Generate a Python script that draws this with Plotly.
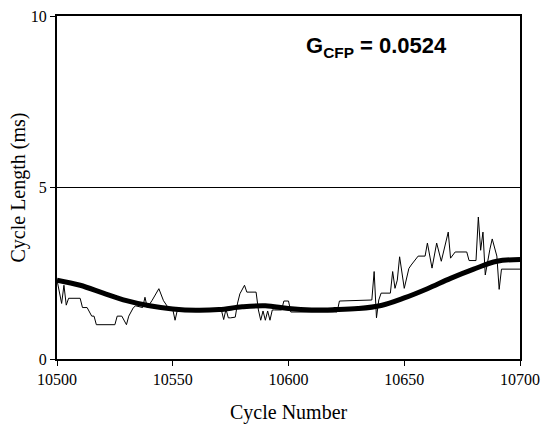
import plotly.graph_objects as go

# Raw cycle length (thin line)
raw_cycle = [10500, 10502, 10503, 10504, 10505, 10510, 10511, 10513, 10515, 10516, 10517,
             10525, 10526, 10528, 10530, 10531, 10533, 10534, 10537, 10538, 10539, 10541,
             10544, 10545, 10546, 10548, 10550, 10551, 10552, 10571, 10572, 10573, 10574,
             10575, 10577, 10578, 10579, 10581, 10582, 10586, 10587, 10588, 10589, 10590,
             10591, 10592, 10593, 10594, 10597, 10598, 10600, 10601, 10602, 10621, 10622,
             10636, 10637, 10638, 10639, 10640, 10644, 10645, 10646, 10647, 10648, 10650,
             10652, 10653, 10656, 10659, 10660, 10662, 10664, 10666, 10669, 10670, 10672,
             10677, 10678, 10681, 10682, 10683, 10684, 10685, 10687, 10688, 10690, 10691,
             10692, 10700]
raw_value = [2.3, 1.62, 2.15, 1.57, 1.77, 1.77, 1.5, 1.5, 1.25, 1.25, 1.0,
             1.0, 1.25, 1.25, 1.0, 1.25, 1.5, 1.55, 1.5, 1.8, 1.5, 1.7,
             2.05, 1.9, 1.7, 1.5, 1.45, 1.13, 1.43, 1.43, 1.15, 1.45, 1.2,
             1.2, 1.22, 1.63, 1.9, 2.15, 1.95, 1.95, 1.43, 1.13, 1.4, 1.13,
             1.4, 1.13, 1.43, 1.43, 1.43, 1.69, 1.69, 1.37, 1.37, 1.37, 1.69,
             1.72, 2.55, 1.2, 1.72, 1.92, 1.92, 2.55, 2.06, 2.3, 2.98, 2.06,
             2.64, 2.74, 3.0, 3.0, 3.38, 2.65, 3.38, 2.85, 3.7, 2.94, 3.12,
             3.12, 2.87, 2.87, 4.14, 3.17, 3.7, 2.45, 3.2, 3.5, 3.0, 2.03,
             2.62, 2.62]

# Smoothed cycle length (thick line)
smooth_cycle = [10500, 10510, 10520, 10530, 10540, 10550, 10560, 10570, 10580, 10590, 10600,
                10610, 10620, 10630, 10640, 10650, 10660, 10670, 10680, 10690, 10700]
smooth_value = [2.3, 2.15, 1.92, 1.7, 1.55, 1.46, 1.42, 1.44, 1.52, 1.55, 1.47,
                1.43, 1.44, 1.47, 1.56, 1.78, 2.05, 2.35, 2.62, 2.85, 2.9]

x_ticks = [10500, 10550, 10600, 10650, 10700]
x_tick_labels = ["10500", "10550", "10600", "10650", "10700"]
y_ticks = [0, 5, 10]
y_tick_labels = ["0", "5", "10"]

W, H = 544, 437
ML, MR, MT, MB = 57, 24, 16, 78
plot_w = W - ML - MR

fig = go.Figure()
fig.add_trace(go.Scatter(x=raw_cycle, y=raw_value, mode="lines",
                         line=dict(color="black", width=1), showlegend=False))
fig.add_trace(go.Scatter(x=smooth_cycle, y=smooth_value, mode="lines",
                         line=dict(color="black", width=5, shape="spline"), showlegend=False))

fig.add_annotation(x=0.69, y=0.91, xref="paper", yref="paper",
                   xanchor="center", yanchor="middle",
                   text="<b>G<sub>CFP</sub> = 0.0524</b>", showarrow=False,
                   font=dict(family="Liberation Sans, Arial", size=22, color="black"))

# Axis titles
fig.add_annotation(x=0.5, y=-0.155, xref="paper", yref="paper",
                   xanchor="center", yanchor="middle",
                   text="Cycle Number", showarrow=False,
                   font=dict(family="Liberation Serif, Times New Roman", size=20, color="black"))
fig.add_annotation(x=(18 - ML) / plot_w, y=0.5, xref="paper", yref="paper",
                   xanchor="center", yanchor="middle", textangle=-90,
                   text="Cycle Length (ms)", showarrow=False,
                   font=dict(family="Liberation Serif, Times New Roman", size=20, color="black"))

fig.update_layout(
    width=W, height=H,
    margin=dict(l=ML, r=MR, t=MT, b=MB, autoexpand=False),
    paper_bgcolor="white", plot_bgcolor="white",
    font=dict(family="Liberation Serif, Times New Roman", color="black", size=16),
    xaxis=dict(range=[10500, 10700], tickvals=x_ticks, ticktext=x_tick_labels,
               ticks="outside", ticklen=5, automargin=False,
               tickwidth=1, tickcolor="black", showgrid=False, zeroline=False,
               showline=True, linewidth=2, linecolor="black", mirror=True),
    yaxis=dict(range=[0, 10], tickvals=y_ticks, ticktext=y_tick_labels,
               ticks="outside", ticklen=5, automargin=False,
               tickwidth=1, tickcolor="black", showgrid=True, gridcolor="black",
               gridwidth=1, zeroline=False,
               showline=True, linewidth=2, linecolor="black", mirror=True),
)

fig.write_html("out.html", config={"displayModeBar": False},
               post_script="document.body.style.margin='0';")
